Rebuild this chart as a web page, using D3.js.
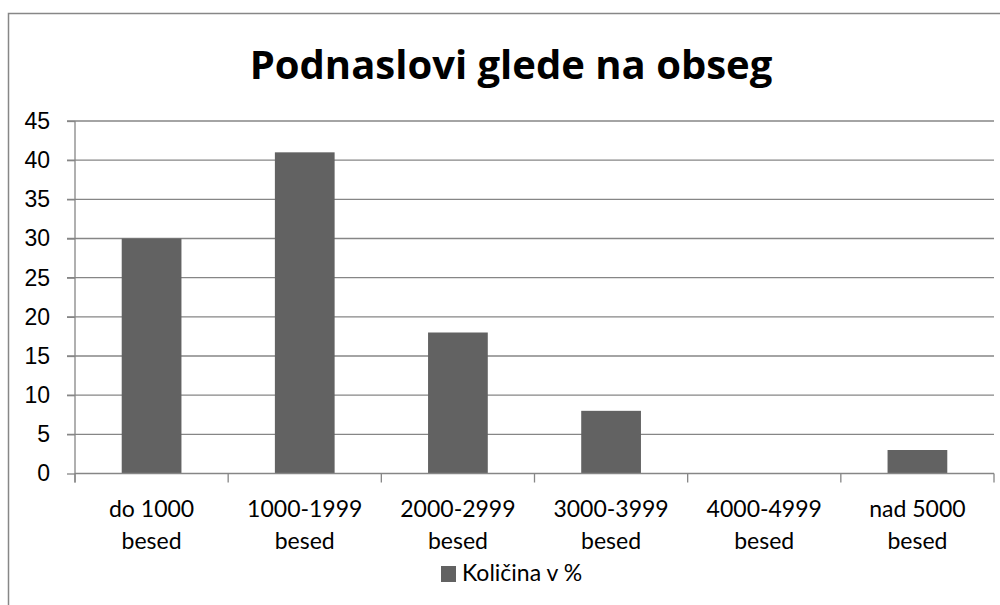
<!DOCTYPE html>
<html lang="sl">
<head>
<meta charset="UTF-8" />
<title>Podnaslovi glede na obseg</title>
<style>
    body { margin: 0; background: #fff; }
    svg { display: block; font-family: Lato, "Open Sans", sans-serif; }
    .grid line { stroke: #868686; stroke-width: 1.3px; }
    .axis path, .axis line { stroke: #868686; stroke-width: 1.3px; }
    .axis text { fill: #000; font-size: 23px; }
</style>
</head>
<body>
<svg width="1000" height="605"></svg>
<script src="https://d3js.org/d3.v7.min.js"></script>
<script>
    const title = 'Podnaslovi glede na obseg';
    const categories = [['do 1000', 'besed'], ['1000-1999', 'besed'], ['2000-2999', 'besed'],
        ['3000-3999', 'besed'], ['4000-4999', 'besed'], ['nad 5000', 'besed']];
    const values = [30, 41, 18, 8, 0, 3];
    const yTicks = [0, 5, 10, 15, 20, 25, 30, 35, 40, 45];
    const seriesName = 'Količina v %';

    const svg = d3.select('svg');
    const plotLeft = 75, plotRight = 994, plotTop = 121, plotBottom = 473.5;

    // outer chart frame (cut by the picture at right and bottom)
    svg.append('rect')
        .attr('x', 8.5).attr('y', 13.5)
        .attr('width', 1100).attr('height', 700)
        .attr('fill', 'none').attr('stroke', '#878787').attr('stroke-width', 1.5);

    svg.append('text')
        .attr('x', 511).attr('y', 79)
        .attr('text-anchor', 'middle')
        .style('font-family', '"Open Sans", Lato, sans-serif')
        .style('font-size', '40px').style('font-weight', 'bold')
        .text(title);

    const x = d3.scaleBand().domain(d3.range(categories.length)).range([plotLeft, plotRight]).paddingInner(0.61).paddingOuter(0.305);
    const xb = d3.scaleBand().domain(d3.range(categories.length)).range([plotLeft, plotRight]);
    const y = d3.scaleLinear().domain([0, 45]).range([plotBottom, plotTop]);

    // horizontal gridlines
    svg.append('g').attr('class', 'grid')
        .selectAll('line').data(yTicks.slice(1)).join('line')
        .attr('x1', plotLeft - 8).attr('x2', plotRight)
        .attr('y1', (d) => y(d)).attr('y2', (d) => y(d));

    // y axis
    const yAxis = svg.append('g').attr('class', 'axis')
        .attr('transform', `translate(${plotLeft},0)`)
        .call(d3.axisLeft(y).tickValues(yTicks).tickSize(8).tickPadding(17));
    yAxis.select('.domain').attr('d', `M0,${plotTop}V${plotBottom + 9}`);

    // bars
    svg.append('g').selectAll('rect').data(values).join('rect')
        .attr('x', (d, i) => x(i)).attr('width', x.bandwidth())
        .attr('y', (d) => y(d)).attr('height', (d) => plotBottom - y(d))
        .attr('fill', '#626262');

    // x axis with boundary ticks
    const xg = svg.append('g').attr('class', 'axis');
    xg.append('line').attr('x1', plotLeft).attr('x2', plotRight).attr('y1', plotBottom).attr('y2', plotBottom);
    xg.selectAll('line.tk').data(d3.range(categories.length + 1)).join('line').attr('class', 'tk')
        .attr('x1', (i) => plotLeft + i * xb.bandwidth()).attr('x2', (i) => plotLeft + i * xb.bandwidth())
        .attr('y1', plotBottom).attr('y2', plotBottom + 9);
    const lbl = xg.selectAll('text').data(categories).join('text')
        .attr('text-anchor', 'middle')
        .attr('x', (d, i) => xb(i) + xb.bandwidth() / 2).attr('y', 517);
    lbl.selectAll('tspan').data((d) => d).join('tspan')
        .attr('x', function () { return this.parentNode.getAttribute('x'); })
        .attr('dy', (d, i) => (i ? 32 : 0))
        .text((d) => d);

    // legend
    const lg = svg.append('g').attr('transform', 'translate(441,566)');
    lg.append('rect').attr('width', 15).attr('height', 16).attr('fill', '#626262');
    lg.append('text').attr('x', 21).attr('y', 15).style('font-size', '23px').text(seriesName);
</script>
</body>
</html>
